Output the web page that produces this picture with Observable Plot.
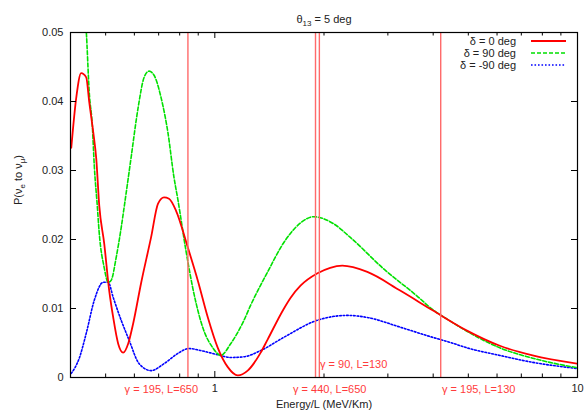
<!DOCTYPE html>
<html><head><meta charset="utf-8">
<script src="https://cdn.jsdelivr.net/npm/d3@7"></script>
<script src="https://cdn.jsdelivr.net/npm/@observablehq/plot@0.6"></script>
<style>
body{margin:0;background:#fff}
#chart{position:relative;width:584px;height:413px}
</style>
</head><body><div id="chart"></div>
<script>
// δ = 0 deg
const redE = [0.402,0.415,0.428,0.442,0.4506,0.4623,0.4711,0.4801,0.4955,0.5114,0.5246,0.5414,0.5588,0.5768,0.5953,0.6263,0.6671,0.6973,0.7243,0.7476,0.7814,0.843,0.8982,0.9567,1.019,1.086,1.157,1.232,1.338,1.398,1.547,1.62,1.723,1.919,2.08,2.247,2.633,3.243,3.997,4.956,6.107,7.52,10];
const redP = [0.0333,0.0406,0.0441,0.0435,0.0399,0.0355,0.0317,0.0249,0.0194,0.0126,0.0087,0.0049,0.0036,0.0049,0.0078,0.0137,0.0203,0.0252,0.0261,0.0259,0.0242,0.0188,0.0140,0.0087,0.0043,0.0015,0.0003,0.0010,0.0036,0.0055,0.0099,0.0116,0.0133,0.0151,0.0159,0.0162,0.0153,0.0126,0.0097,0.0068,0.0046,0.0032,0.0020];
// δ = 90 deg
const greenE = [0.415,0.442,0.4506,0.4594,0.4652,0.4741,0.4801,0.4955,0.5082,0.518,0.5346,0.5518,0.5659,0.5878,0.6145,0.6383,0.6588,0.6799,0.7106,0.7429,0.7716,0.7914,0.8324,0.8755,0.9269,0.9874,1.039,1.106,1.201,1.256,1.338,1.398,1.547,1.723,1.871,2.123,2.364,2.913,3.612,3.997,4.45,4.956,6.107,7.52,10];
const greenP = [0.062,0.0503,0.0413,0.0365,0.0307,0.0249,0.0209,0.0159,0.0138,0.0141,0.0174,0.0217,0.0257,0.0319,0.0391,0.0435,0.0444,0.0438,0.0406,0.0354,0.0290,0.0257,0.0184,0.0122,0.0072,0.0043,0.0032,0.0049,0.0082,0.0105,0.0134,0.0153,0.0195,0.0224,0.0233,0.0223,0.0203,0.0158,0.0118,0.0098,0.0082,0.0067,0.0043,0.0028,0.0014];
// δ = -90 deg
const blueE = [0.402,0.4229,0.442,0.4652,0.4924,0.5082,0.5246,0.5518,0.5804,0.6184,0.6671,0.7243,0.7914,0.8484,0.9152,1.019,1.106,1.201,1.338,1.547,1.919,2.32,2.633,3.243,3.997,4.45,4.956,6.107,7.52,10];
const blueP = [0.0006,0.0028,0.0064,0.0112,0.0138,0.0138,0.0116,0.0083,0.0054,0.0020,0.0010,0.0020,0.0035,0.0042,0.0039,0.0033,0.0029,0.0030,0.0039,0.0058,0.0083,0.0090,0.0087,0.0073,0.0058,0.0051,0.0043,0.0032,0.0022,0.0013];

const seriesNames = ["δ = 0 deg", "δ = 90 deg", "δ = -90 deg"];
const seriesColors = ["#ff0000", "#00e000", "#0000ff"];
const seriesDash = [null, "4,2", "1.6,1.9"];

// vertical markers (Energy/L) and their labels
const markerE = [0.843, 1.895, 1.942, 4.196];
const bottomLabels = ["γ = 195, L=650", "γ = 440, L=650", "γ = 195, L=130"];
const bottomLabelE = [0.712, 2.074, 5.34];
const innerLabel = ["γ = 90, L=130"];
const innerLabelE = [1.95];
const innerLabelP = [0.0019];

const xMajor = [1, 10];
const xMinor = [0.5,0.6,0.7,0.8,0.9,2,3,4,5,6,7,8,9];
const yTicks = [0, 0.01, 0.02, 0.03, 0.04, 0.05];

const W = 584, H = 413, mT = 32, mB = 36, mL = 70, mR = 7;
const iW = W - mL - mR, iH = H - mT - mB;

const mk = (E, P) => E.map((e, i) => ({e, p: P[i]}));
const red = mk(redE, redP), green = mk(greenE, greenP), blue = mk(blueE, blueP);

const tickColor = "#222";
const svg = Plot.plot({
  width: W, height: H,
  marginTop: mT, marginBottom: mB, marginLeft: mL, marginRight: mR,
  style: {fontFamily: "'Liberation Sans', Arial, sans-serif", fontSize: "11px", background: "#fff", color: "#222"},
  x: {type: "log", domain: [0.4, 10], nice: false},
  y: {domain: [0, 0.05]},
  marks: [
    Plot.line(blue, {x: "e", y: "p", stroke: seriesColors[2], strokeWidth: 1.6, strokeDasharray: seriesDash[2], curve: "monotone-x", clip: true}),
    Plot.line(green, {x: "e", y: "p", stroke: seriesColors[1], strokeWidth: 1.6, strokeDasharray: seriesDash[1], curve: "monotone-x", clip: true}),
    Plot.line(red, {x: "e", y: "p", stroke: seriesColors[0], strokeWidth: 1.8, curve: "monotone-x", clip: true}),
    Plot.ruleX(markerE, {x: d => d, stroke: "#ff6a6a", strokeWidth: 1.4}),
    // ticks (inward, mirrored)
    Plot.tickX(xMajor, {x: d => d, stroke: "#000", insetTop: iH - 6}),
    Plot.tickX(xMajor, {x: d => d, stroke: "#000", insetBottom: iH - 6}),
    Plot.tickX(xMinor, {x: d => d, stroke: "#000", insetTop: iH - 3.5}),
    Plot.tickX(xMinor, {x: d => d, stroke: "#000", insetBottom: iH - 3.5}),
    Plot.tickY(yTicks, {y: d => d, stroke: "#000", insetRight: iW - 6}),
    Plot.tickY(yTicks, {y: d => d, stroke: "#000", insetLeft: iW - 6}),
    Plot.frame({stroke: "#000", strokeWidth: 1.2}),
    Plot.axisX({ticks: xMajor, tickSize: 0, tickPadding: 7, tickFormat: d => String(d), label: null, fill: tickColor}),
    Plot.axisY({ticks: yTicks, tickSize: 0, tickPadding: 7, tickFormat: d => d === 0 ? "0" : d.toFixed(2), label: null, fill: tickColor}),
    Plot.text(bottomLabels, {x: (d, i) => bottomLabelE[i], text: d => d, frameAnchor: "bottom", dy: 15, fill: "#ff3c3c", fontSize: 11}),
    Plot.text(innerLabel, {x: (d, i) => innerLabelE[i], y: (d, i) => innerLabelP[i], text: d => d, textAnchor: "start", fill: "#ff3c3c", fontSize: 11}),
    Plot.text(["Energy/L (MeV/Km)"], {text: d => d, frameAnchor: "bottom", dy: 30, fill: tickColor}),
    Plot.text(["P(νe to νμ)"], {text: d => d, frameAnchor: "left", dx: -52, rotate: -90, fill: tickColor}),
    Plot.text(["θ13 = 5 deg"], {text: d => d, frameAnchor: "top", dy: -17, fill: tickColor})
  ]
});
document.getElementById("chart").appendChild(svg);

// subscripts
function richify(match, parts) {
  d3.select(svg).selectAll("text").filter(function(){ return this.textContent === match; }).each(function(){
    const t = d3.select(this);
    t.text("");
    let prevSub = false;
    parts.forEach(([s, sub]) => {
      const ts = t.append("tspan").text(s);
      if (sub && !prevSub) ts.attr("dy", 3).attr("font-size", 8);
      else if (sub) ts.attr("font-size", 8);
      if (!sub && prevSub) ts.attr("dy", -3);
      prevSub = sub;
    });
  });
}
richify("θ13 = 5 deg", [["θ", false], ["13", true], [" = 5 deg", false]]);
richify("P(νe to νμ)", [["P(ν", false], ["e", true], [" to ν", false], ["μ", true], [")", false]]);

// legend (top-right, inside frame)
const lg = d3.select(svg).append("g").attr("font-family", "'Liberation Sans', Arial, sans-serif").attr("font-size", 11);
seriesNames.forEach((name, i) => {
  const y = 41 + i * 12;
  lg.append("text").attr("x", 516).attr("y", y).attr("dy", "0.35em").attr("text-anchor", "end").attr("fill", tickColor).text(name);
  lg.append("line").attr("x1", 531).attr("x2", 566).attr("y1", y).attr("y2", y)
    .attr("stroke", seriesColors[i]).attr("stroke-width", i === 0 ? 1.8 : 1.6)
    .attr("stroke-dasharray", seriesDash[i]);
});
</script>
</body></html>
